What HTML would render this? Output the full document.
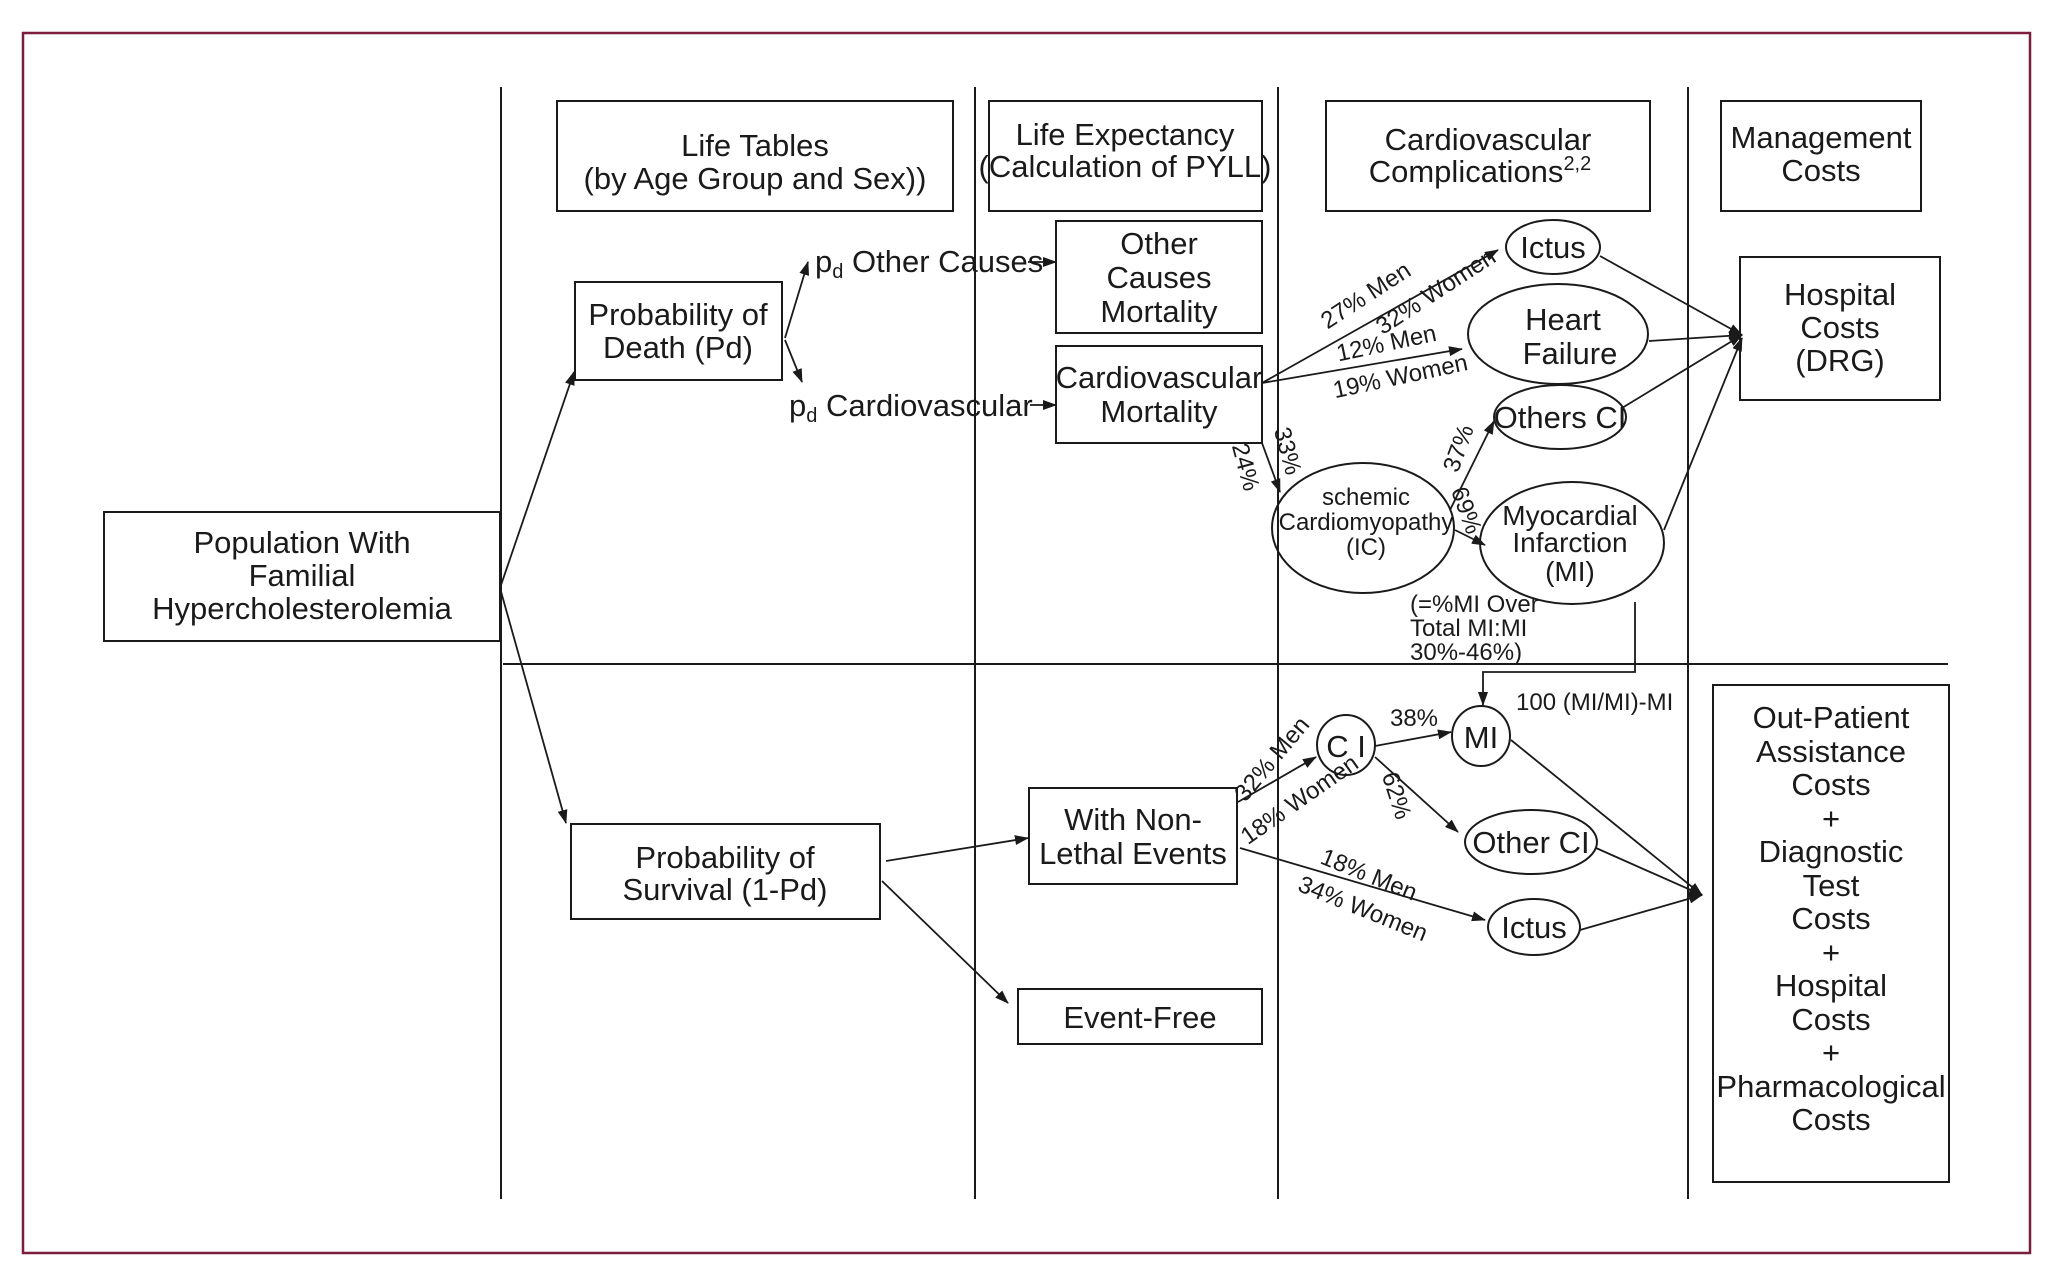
<!DOCTYPE html>
<html><head><meta charset="utf-8"><style>
html,body{margin:0;padding:0;background:#fff;}
svg{display:block;}
text{font-family:"Liberation Sans Narrow","Liberation Sans",sans-serif;fill:#1a1a1a;}
.t{font-size:31px;text-anchor:middle;}
.s{font-size:24px;}
.m{font-size:24px;text-anchor:middle;}
</style></head><body>
<svg width="2062" height="1275" viewBox="0 0 2062 1275" xmlns="http://www.w3.org/2000/svg">
<defs><marker id="a" markerWidth="14" markerHeight="10" refX="13" refY="5" orient="auto" markerUnits="userSpaceOnUse"><path d="M0,0 L14,5 L0,10 Z" fill="#1a1a1a"/></marker></defs>
<rect x="23" y="33" width="2007" height="1220" fill="none" stroke="#7d1d3c" stroke-width="2.5"/>
<g stroke="#1a1a1a" stroke-width="2" fill="none">
<line x1="501" y1="87" x2="501" y2="1199"/>
<line x1="975" y1="87" x2="975" y2="1199"/>
<line x1="1278" y1="87" x2="1278" y2="1199"/>
<line x1="1688" y1="87" x2="1688" y2="1199"/>
<line x1="503" y1="664" x2="1948" y2="664"/>
<rect x="104" y="512" width="396" height="129"/>
<rect x="557" y="101" width="396" height="110"/>
<rect x="989" y="101" width="273" height="110"/>
<rect x="1326" y="101" width="324" height="110"/>
<rect x="1721" y="101" width="200" height="110"/>
<rect x="575" y="282" width="207" height="98"/>
<rect x="1056" y="221" width="206" height="112"/>
<rect x="1056" y="346" width="206" height="97"/>
<rect x="1740" y="257" width="200" height="143"/>
<rect x="571" y="824" width="309" height="95"/>
<rect x="1029" y="788" width="208" height="96"/>
<rect x="1018" y="989" width="244" height="55"/>
<rect x="1713" y="685" width="236" height="497"/>
<ellipse cx="1553" cy="247" rx="47" ry="27"/>
<ellipse cx="1558" cy="334" rx="90" ry="50"/>
<ellipse cx="1560" cy="417" rx="66" ry="32"/>
<ellipse cx="1363" cy="528" rx="91" ry="65"/>
<ellipse cx="1572" cy="543" rx="92" ry="61"/>
<ellipse cx="1346" cy="745" rx="29" ry="30"/>
<ellipse cx="1481" cy="736" rx="29" ry="30"/>
<ellipse cx="1531" cy="842" rx="66" ry="32"/>
<ellipse cx="1534" cy="927" rx="46" ry="28"/>
</g>
<g stroke="#1a1a1a" stroke-width="1.8" fill="none" marker-end="url(#a)">
<line x1="500" y1="588" x2="574" y2="372"/>
<line x1="500" y1="588" x2="566" y2="823"/>
<line x1="785" y1="338" x2="808" y2="262"/>
<line x1="785" y1="340" x2="802" y2="382"/>
<line x1="1028" y1="262" x2="1056" y2="262"/>
<line x1="1030" y1="405" x2="1056" y2="405"/>
<line x1="1262" y1="383" x2="1498" y2="250"/>
<line x1="1262" y1="383" x2="1462" y2="349"/>
<line x1="1262" y1="443" x2="1280" y2="492"/>
<line x1="1450" y1="510" x2="1494" y2="421"/>
<line x1="1455" y1="530" x2="1485" y2="545"/>
<line x1="1600" y1="256" x2="1742" y2="335"/>
<line x1="1649" y1="341" x2="1742" y2="335"/>
<line x1="1622" y1="408" x2="1742" y2="335"/>
<line x1="1664" y1="530" x2="1742" y2="338"/>
<polyline points="1635,602 1635,672 1483,672 1483,705"/>
<line x1="886" y1="861" x2="1028" y2="838"/>
<line x1="882" y1="881" x2="1008" y2="1003"/>
<line x1="1238" y1="802" x2="1316" y2="757"/>
<line x1="1240" y1="848" x2="1485" y2="920"/>
<line x1="1375" y1="746" x2="1451" y2="732"/>
<line x1="1375" y1="757" x2="1458" y2="832"/>
<line x1="1511" y1="740" x2="1702" y2="895"/>
<line x1="1596" y1="848" x2="1702" y2="895"/>
<line x1="1580" y1="930" x2="1702" y2="895"/>
</g>
<text class="t" x="302" y="553">Population With</text>
<text class="t" x="302" y="586">Familial</text>
<text class="t" x="302" y="619">Hypercholesterolemia</text>
<text class="t" x="755" y="156">Life Tables</text>
<text class="t" x="755" y="189">(by Age Group and Sex))</text>
<text class="t" x="1125" y="145">Life Expectancy</text>
<text class="t" x="1125" y="177">(Calculation of PYLL)</text>
<text class="t" x="1488" y="150">Cardiovascular</text>
<text class="t" x="1480" y="182">Complications<tspan font-size="20" dy="-12">2,2</tspan></text>
<text class="t" x="1821" y="148">Management</text>
<text class="t" x="1821" y="181">Costs</text>
<text class="t" x="678" y="325">Probability of</text>
<text class="t" x="678" y="358">Death (Pd)</text>
<text style="font-size:31px" x="815" y="272">p<tspan font-size="20" dy="6">d</tspan><tspan dy="-6"> Other Causes</tspan></text>
<text style="font-size:31px" x="789" y="416">p<tspan font-size="20" dy="6">d</tspan><tspan dy="-6"> Cardiovascular</tspan></text>
<text class="t" x="1159" y="254">Other</text>
<text class="t" x="1159" y="288">Causes</text>
<text class="t" x="1159" y="322">Mortality</text>
<text class="t" x="1159" y="388">Cardiovascular</text>
<text class="t" x="1159" y="422">Mortality</text>
<text class="t" x="1553" y="258">Ictus</text>
<text class="t" x="1563" y="330">Heart</text>
<text class="t" x="1570" y="364">Failure</text>
<text class="t" x="1560" y="428">Others CI</text>
<text class="m" x="1366" y="505">schemic</text>
<text class="m" x="1366" y="530">Cardiomyopathy</text>
<text class="m" x="1366" y="555">(IC)</text>
<text class="t" x="1570" y="525" style="font-size:28px">Myocardial</text>
<text class="t" x="1570" y="552" style="font-size:28px">Infarction</text>
<text class="t" x="1570" y="581" style="font-size:28px">(MI)</text>
<text class="t" x="1840" y="305">Hospital</text>
<text class="t" x="1840" y="338">Costs</text>
<text class="t" x="1840" y="371">(DRG)</text>
<text class="s" x="1410" y="612">(=%MI Over</text>
<text class="s" x="1410" y="636">Total MI:MI</text>
<text class="s" x="1410" y="660">30%-46%)</text>
<text class="s" x="1516" y="710">100 (MI/MI)-MI</text>
<g class="m">
<text class="m" transform="translate(1370,302) rotate(-33)">27% Men</text>
<text class="m" transform="translate(1440,298) rotate(-33)">32% Women</text>
<text class="m" transform="translate(1388,351) rotate(-12)">12% Men</text>
<text class="m" transform="translate(1402,384) rotate(-12)">19% Women</text>
<text class="m" transform="translate(1280,453) rotate(75)">33%</text>
<text class="m" transform="translate(1238,469) rotate(75)">24%</text>
<text class="m" transform="translate(1466,451) rotate(-70)">37%</text>
<text class="m" transform="translate(1459,513) rotate(70)">69%</text>
<text class="m" transform="translate(1278,764) rotate(-50)">32% Men</text>
<text class="m" transform="translate(1304,806) rotate(-35)">18% Women</text>
<text class="m" transform="translate(1366,882) rotate(22)">18% Men</text>
<text class="m" transform="translate(1360,916) rotate(22)">34% Women</text>
<text class="m" x="1414" y="726">38%</text>
<text class="m" transform="translate(1389,798) rotate(72)">62%</text>
</g>
<text class="t" x="725" y="868">Probability of</text>
<text class="t" x="725" y="900">Survival (1-Pd)</text>
<text class="t" x="1133" y="830">With Non-</text>
<text class="t" x="1133" y="864">Lethal Events</text>
<text class="t" x="1140" y="1028">Event-Free</text>
<text class="t" x="1346" y="757">C I</text>
<text class="t" x="1481" y="748">MI</text>
<text class="t" x="1531" y="853">Other CI</text>
<text class="t" x="1534" y="938">Ictus</text>
<g class="t">
<text class="t" x="1831" y="728">Out-Patient</text>
<text class="t" x="1831" y="762">Assistance</text>
<text class="t" x="1831" y="795">Costs</text>
<text class="t" x="1831" y="829">+</text>
<text class="t" x="1831" y="862">Diagnostic</text>
<text class="t" x="1831" y="896">Test</text>
<text class="t" x="1831" y="929">Costs</text>
<text class="t" x="1831" y="963">+</text>
<text class="t" x="1831" y="996">Hospital</text>
<text class="t" x="1831" y="1030">Costs</text>
<text class="t" x="1831" y="1063">+</text>
<text class="t" x="1831" y="1097">Pharmacological</text>
<text class="t" x="1831" y="1130">Costs</text>
</g>
</svg>
</body></html>
